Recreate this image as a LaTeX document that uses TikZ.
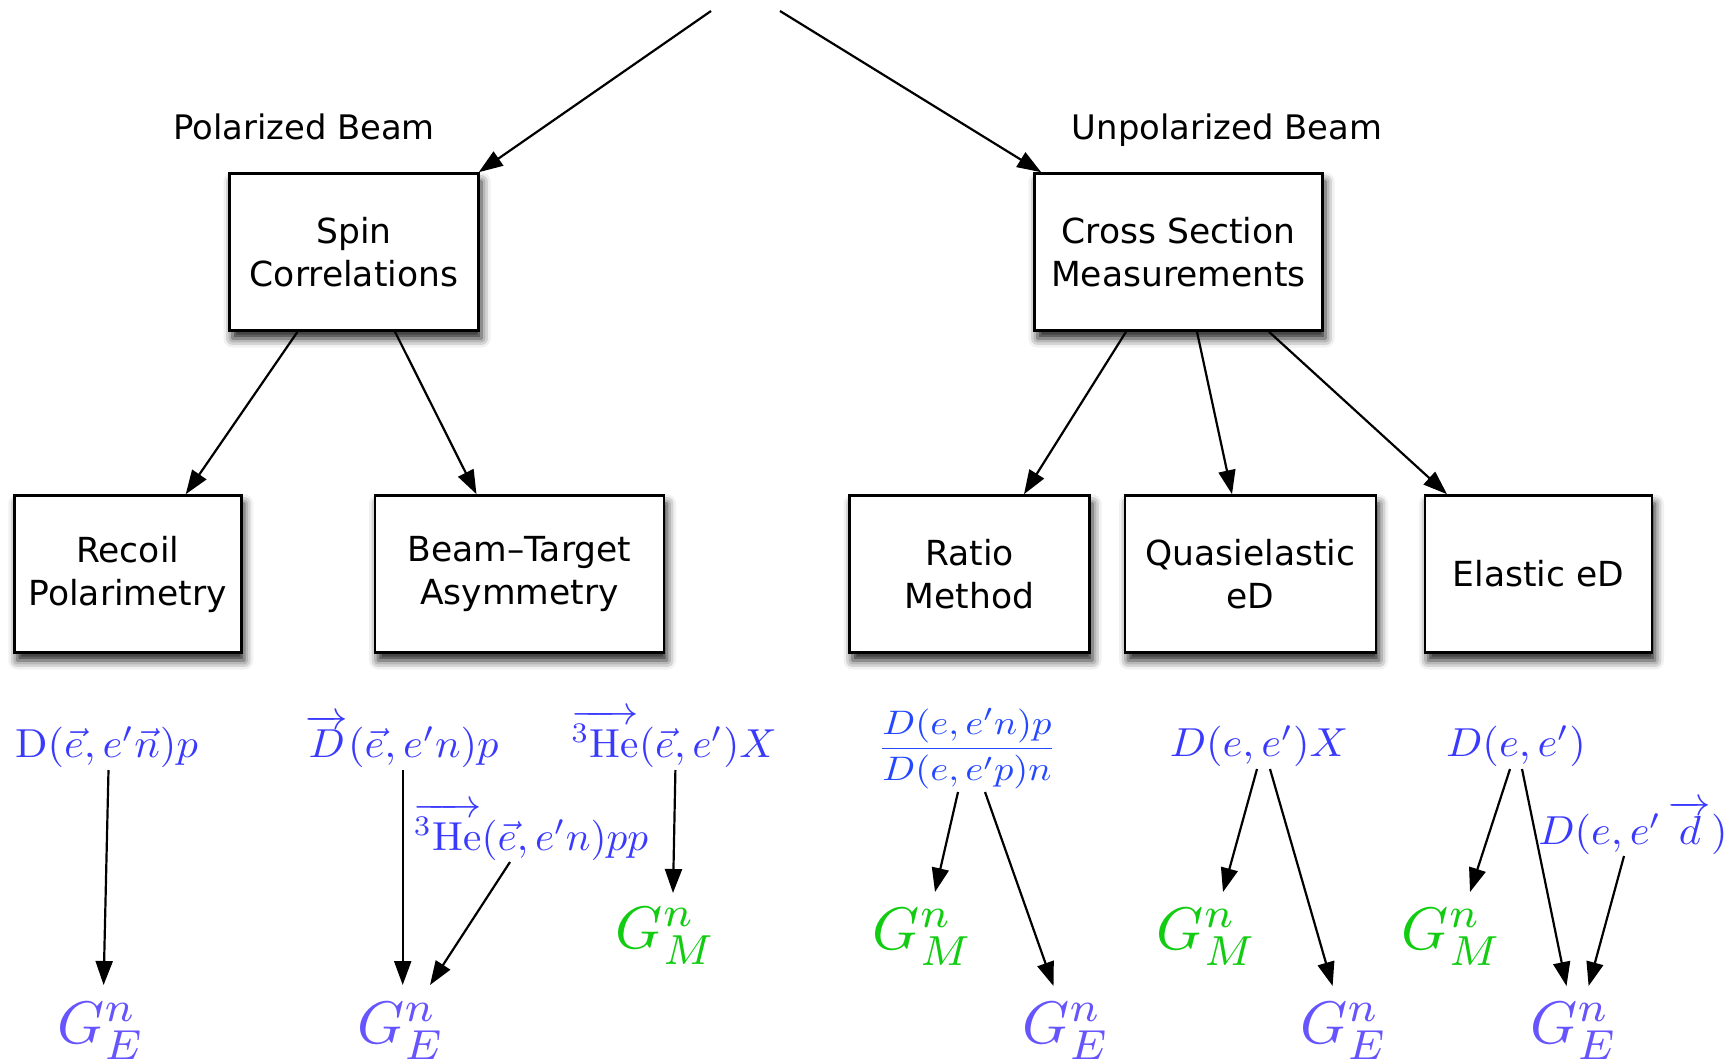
\documentclass[tikz,border=0pt]{standalone}
\usepackage{amsmath}
\usepackage{fontspec}
\newfontfamily\boxfont{DejaVu Sans}
\usetikzlibrary{arrows.meta,calc,shadows.blur}
\definecolor{fblue}{HTML}{3A3AFF}
\definecolor{fracblue}{HTML}{2448FF}
\definecolor{geblue}{HTML}{6655FF}
\definecolor{gmgreen}{HTML}{11CC11}
\tikzset{
  box/.style={draw, line width=2.6pt, fill=white, minimum height=157pt, align=center,
    font=\boxfont\fontsize{34.5}{43}\selectfont,
    blur shadow={shadow xshift=3pt, shadow yshift=-8pt, shadow blur radius=9pt, shadow opacity=90}},
  lbl/.style={font=\boxfont\fontsize{33.8}{40}\selectfont, anchor=base, inner sep=0pt},
  frm/.style={text=fblue, xscale=4.25, yscale=4.05, anchor=base, inner sep=0pt},
  hefrm/.style={text=fblue, xscale=4.12, yscale=4.05, anchor=base, inner sep=0pt},
  fracfrm/.style={text=fracblue, xscale=3.85, yscale=3.4, anchor=base, inner sep=0pt},
  ge/.style={text=geblue, scale=6, anchor=base, inner sep=0pt},
  gm/.style={text=gmgreen, scale=6, anchor=base, inner sep=0pt},
  arr/.style={line width=2.2pt, -{Triangle[length=24pt,width=17pt]}},
}
\begin{document}
\begin{tikzpicture}[x=1pt,y=-1pt]
\useasboundingbox (0,0) rectangle (1728,1058);
% labels
\node[lbl] (polL) at (304,139) {Polarized Beam};
\node[lbl] (unpolL) at (1227,139) {Unpolarized Beam};
% boxes
\node[box, minimum width=249pt] (spin) at (354,252) {Spin\\Correlations};
\node[box, minimum width=288pt] (cross) at (1178.5,252) {Cross Section\\Measurements};
\node[box, minimum width=227pt] (recoil) at (127.75,574) {Recoil\\Polarimetry};
\node[box, minimum width=289pt] (beam) at (519.5,574) {Beam–Target\\Asymmetry};
\node[box, minimum width=240pt] (ratio) at (969.5,574) {Ratio\\Method};
\node[box, minimum width=251pt] (quasi) at (1250.5,574) {Quasielastic\\eD};
\node[box, minimum width=227pt] (elastic) at (1538.5,574) {Elastic eD};
% top arrows
\coordinate (tl) at (711,11);
\coordinate (tr) at (780,11);
\draw[arr] (tl) -- ([xshift=-1pt]spin.north east);
\draw[arr] (tr) -- ([xshift=8pt]cross.north west);
% box arrows
\draw[arr] ([xshift=-56.5pt]spin.south) -- ([xshift=58pt]recoil.north);
\draw[arr] ([xshift=41pt]spin.south) -- ([xshift=-43pt]beam.north);
\draw[arr] ([xshift=-52.5pt]cross.south) -- ([xshift=54.5pt]ratio.north);
\draw[arr] ([xshift=18.5pt]cross.south) -- ([xshift=-18.5pt]quasi.north);
\draw[arr] ([xshift=90.5pt]cross.south) -- ([xshift=-91.5pt]elastic.north);
% formulas
\node[frm] (f1) at (106.5,757) {$\mathrm{D}(\vec{e},e'\vec{n})p$};
\node[frm] (f2) at (402,757) {$\overrightarrow{D}(\vec{e},e'n)p$};
\node[hefrm] (f3) at (674,757) {$\overrightarrow{{}^3\mathrm{He}}(\vec{e},e')X$};
\node[hefrm] (f4) at (531,850) {$\overrightarrow{{}^3\mathrm{He}}(\vec{e},e'n)pp$};
\node[fracfrm] (f5) at (967,757) {$\dfrac{D(e,e'n)p}{D(e,e'p)n}$};
\node[frm] (f6) at (1259,756) {$D(e,e')X$};
\node[frm] (f7) at (1516,756) {$D(e,e')$};
\node[frm] (f8) at (1633,844) {$D(e,e'\,\overrightarrow{d})$};
% form factors
\node[ge] (ge1) at (101,1043) {$G_E^n$};
\node[ge] (ge2) at (401,1043) {$G_E^n$};
\node[gm] (gm1) at (666,948) {$G_M^n$};
\node[gm] (gm2) at (923,949) {$G_M^n$};
\node[ge] (ge3) at (1066,1043) {$G_E^n$};
\node[gm] (gm3) at (1207,949) {$G_M^n$};
\node[ge] (ge4) at (1344,1043) {$G_E^n$};
\node[gm] (gm4) at (1452,949) {$G_M^n$};
\node[ge] (ge5) at (1574,1043) {$G_E^n$};
% formula arrows
\draw[arr] ($(f1.base)+(2,13)$) -- ($(ge1.base)+(2.6,-58)$);
\draw[arr] ($(f2.base)+(0.7,13)$) -- ($(ge2.base)+(1.7,-58)$);
\draw[arr] ($(f4.base)+(-21,12)$) -- ($(ge2.base)+(29,-58)$);
\draw[arr] ($(f3.base)+(1.4,13)$) -- ($(gm1.base)+(7,-55)$);
\draw[arr] ($(f5.base)+(-9,35)$) -- ($(gm2.base)+(12,-57)$);
\draw[arr] ($(f5.base)+(18,35)$) -- ($(ge3.base)+(-12.5,-57)$);
\draw[arr] ($(f6.base)+(-2,13)$) -- ($(gm3.base)+(16,-57)$);
\draw[arr] ($(f6.base)+(11,13)$) -- ($(ge4.base)+(-11.4,-57)$);
\draw[arr] ($(f7.base)+(-6,13)$) -- ($(gm4.base)+(18,-57)$);
\draw[arr] ($(f7.base)+(6,13)$) -- ($(ge5.base)+(-7.5,-57)$);
\draw[arr] ($(f8.base)+(-9,12)$) -- ($(ge5.base)+(14.6,-57)$);
\end{tikzpicture}
\end{document}
